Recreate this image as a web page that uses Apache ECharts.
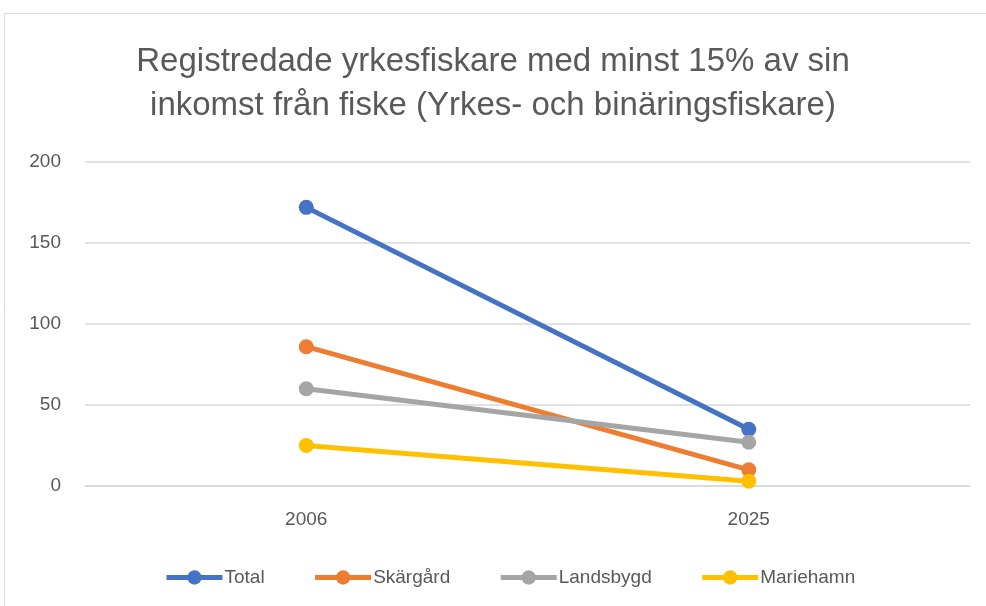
<!DOCTYPE html>
<html>
<head>
<meta charset="utf-8">
<script src="https://cdn.jsdelivr.net/npm/echarts@6/dist/echarts.min.js"></script>
<style>
  html, body { margin: 0; padding: 0; background: #fff; }
  #chart { width: 986px; height: 606px; }
</style>
</head>
<body>
<div id="chart"></div>
<script>
// data
var years = ['2006', '2025'];
var total = [172, 35];
var skargard = [86, 10];
var landsbygd = [60, 27];
var mariehamn = [25, 3];
var yTicks = [0, 50, 100, 150, 200];

var textColor = '#595959';
var gridColor = '#d9d9d9';
var fontName = 'Liberation Sans, sans-serif';

function makeLine(name, values, color) {
    return {
        name: name,
        type: 'line',
        data: values,
        symbol: 'circle',
        symbolSize: 15,
        lineStyle: { width: 5, color: color },
        itemStyle: { color: color },
        emphasis: { disabled: true }
    };
}

var myChart = echarts.init(document.getElementById('chart'));
var option = {
    animation: false,
    textStyle: { fontFamily: fontName },
    title: {
        text: 'Registredade yrkesfiskare med minst 15% av sin\ninkomst från fiske (Yrkes- och binäringsfiskare)',
        left: 'center',
        top: 35,
        textStyle: {
            fontFamily: fontName,
            fontSize: 33,
            fontWeight: 'normal',
            color: textColor,
            lineHeight: 44
        }
    },
    graphic: [{
        type: 'rect',
        shape: { x: 4.5, y: 13.5, width: 1000, height: 620 },
        style: { fill: 'none', stroke: gridColor, lineWidth: 1 },
        silent: true
    }],
    grid: { left: 85, right: 16, top: 162, bottom: 120 },
    legend: {
        bottom: 14,
        left: 159,
        itemWidth: 56,
        itemHeight: 18,
        itemGap: 48,
        lineStyle: { width: 5 },
        textStyle: { fontFamily: fontName, fontSize: 19, color: textColor, padding: [0, 0, 0, -3] },
        data: ['Total', 'Skärgård', 'Landsbygd', 'Mariehamn']
    },
    xAxis: {
        type: 'category',
        data: years,
        boundaryGap: true,
        axisLine: { lineStyle: { color: gridColor, width: 1.5 } },
        axisTick: { show: false },
        axisLabel: { color: textColor, fontSize: 19, margin: 24 }
    },
    yAxis: {
        type: 'value',
        min: yTicks[0],
        max: yTicks[yTicks.length - 1],
        interval: 50,
        axisLine: { show: false },
        axisTick: { show: false },
        splitLine: { lineStyle: { color: gridColor, width: 1.5 } },
        axisLabel: { color: textColor, fontSize: 19, margin: 24 }
    },
    series: [
        makeLine('Total', total, '#4472C4'),
        makeLine('Skärgård', skargard, '#ED7D31'),
        makeLine('Landsbygd', landsbygd, '#A5A5A5'),
        makeLine('Mariehamn', mariehamn, '#FFC000')
    ]
};
option && myChart.setOption(option);
</script>
</body>
</html>
